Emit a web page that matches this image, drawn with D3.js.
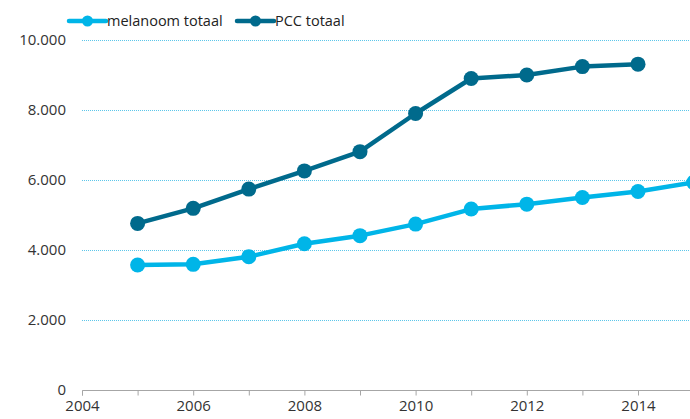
<!DOCTYPE html>
<html>
<head>
<meta charset="utf-8">
<script src="https://cdn.jsdelivr.net/npm/d3@7"></script>
<style>
  body { margin: 0; background: #fff; }
  svg { display: block; font-family: "Open Sans", sans-serif; }
</style>
</head>
<body>
<svg id="chart"></svg>
<script>
// data
var years = [2005, 2006, 2007, 2008, 2009, 2010, 2011, 2012, 2013, 2014, 2015];
var melanoom = [3570, 3590, 3810, 4180, 4410, 4740, 5170, 5310, 5500, 5670, 5930];
var pcc = [4760, 5190, 5740, 6260, 6810, 7900, 8900, 9000, 9240, 9310, null];
var yTicks = [0, 2000, 4000, 6000, 8000, 10000];
var xTicks = [2004, 2005, 2006, 2007, 2008, 2009, 2010, 2011, 2012, 2013, 2014, 2015];
var xLabels = [2004, 2006, 2008, 2010, 2012, 2014];

var seriesNames = ["melanoom totaal", "PCC totaal"];
var colors = ["#00b5e8", "#006a8c"];

var size = { width: 690, height: 419 };
var margin = { top: 40, left: 82, bottom: 29 };

var svg = d3.select("#chart")
  .attr("width", size.width)
  .attr("height", size.height);

var x = d3.scaleLinear()
  .domain([2004, 2015])
  .range([margin.left, margin.left + 11 * 55.6]);

var y = d3.scaleLinear()
  .domain([0, 10000])
  .range([size.height - margin.bottom, margin.top]);

// gridlines (dotted)
svg.append("g")
  .selectAll("line")
  .data(yTicks.filter(function(d){ return d > 0; }))
  .enter()
  .append("line")
  .attr("x1", margin.left)
  .attr("x2", size.width)
  .attr("y1", function(d){ return y(d) + 0.5; })
  .attr("y2", function(d){ return y(d) + 0.5; })
  .attr("stroke", "#5cc6ea")
  .attr("stroke-width", 1)
  .attr("stroke-dasharray", "1,1");

// y labels
svg.append("g")
  .selectAll("text")
  .data(yTicks)
  .enter()
  .append("text")
  .attr("x", 66)
  .attr("y", function(d){ return y(d); })
  .attr("dy", "0.35em")
  .attr("text-anchor", "end")
  .attr("fill", "#333")
  .style("font-size", "15px")
  .text(function(d){ return d3.format(",")(d).replace(/,/g, "."); });

// x axis
var xAxis = d3.axisBottom(x)
  .tickValues(xTicks)
  .tickSize(5)
  .tickFormat(function(d){ return xLabels.indexOf(d) >= 0 ? d : ""; });

var gx = svg.append("g")
  .attr("transform", "translate(0," + (y(0) + 0.5) + ")")
  .call(xAxis);
gx.select(".domain").attr("stroke", "#a6a6a6").attr("d", "M" + (margin.left + 0.5) + ",5V0H" + x(2015));
gx.selectAll(".tick line").attr("stroke", "#a6a6a6");
gx.selectAll(".tick text")
  .attr("y", 10)
  .attr("fill", "#333")
  .style("font-size", "15px")
  .style("font-family", "Open Sans, sans-serif");

// lines + points
var line = d3.line()
  .defined(function(d){ return d[1] != null; })
  .x(function(d){ return x(d[0]); })
  .y(function(d){ return y(d[1]); });

[melanoom, pcc].forEach(function(values, i){
  var pts = years.map(function(yr, j){ return [yr, values[j]]; });
  var g = svg.append("g");
  g.append("path")
    .datum(pts)
    .attr("d", line)
    .attr("fill", "none")
    .attr("stroke", colors[i])
    .attr("stroke-width", 4.5)
    .attr("stroke-linejoin", "round");
  g.selectAll("circle")
    .data(pts.filter(function(d){ return d[1] != null; }))
    .enter()
    .append("circle")
    .attr("cx", function(d){ return x(d[0]); })
    .attr("cy", function(d){ return y(d[1]); })
    .attr("r", 7.5)
    .attr("fill", colors[i]);
});

// legend
var legendX = [69, 237];
var legend = svg.append("g")
  .selectAll("g")
  .data(seriesNames)
  .enter()
  .append("g")
  .attr("transform", function(d, i){ return "translate(" + legendX[i] + ",21)"; });

legend.append("line")
  .attr("x1", 0)
  .attr("x2", 37)
  .attr("stroke", function(d, i){ return colors[i]; })
  .attr("stroke-width", 4.5)
  .attr("stroke-linecap", "round");
legend.append("circle")
  .attr("cx", 18.5)
  .attr("r", 5.5)
  .attr("fill", function(d, i){ return colors[i]; });
legend.append("text")
  .attr("x", 38)
  .attr("dy", "0.35em")
  .attr("fill", "#222")
  .style("font-size", "14.5px")
  .text(function(d){ return d; });
</script>
</body>
</html>
